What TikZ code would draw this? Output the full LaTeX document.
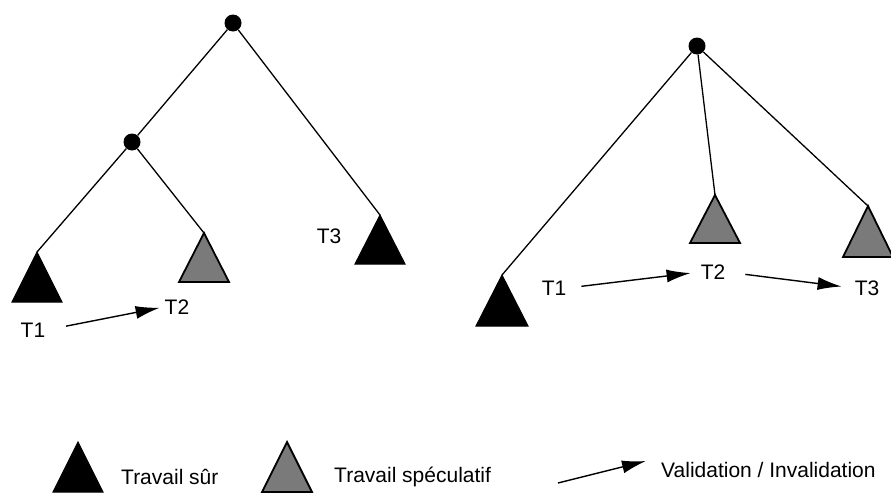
\documentclass[tikz,border=0pt]{standalone}
\usepackage{fontspec}
\setmainfont{Liberation Sans}
\usetikzlibrary{positioning, arrows.meta}

\tikzset{
  dot/.style={circle,fill=black,inner sep=0pt,minimum size=17pt},
  branch/.style={line width=1.3pt},
  sure/.style={fill=black,draw=black,line width=1pt,line join=miter},
  spec/.style={fill=black!52,draw=black,line width=1.8pt,line join=miter},
  lbl/.style={inner sep=1pt,font=\fontsize{21}{24}\selectfont},
  valid/.style={line width=1.4pt,->},
}

\begin{document}
\begin{tikzpicture}[x=1pt,y=-1pt]

\useasboundingbox (0,0) rectangle (891,493);

% left tree
\node[dot] (lroot) at (233,23) {};
\node[dot] (lmid) at (132,142) {};
\draw[sure] (37,252) coordinate (lt1) -- ++(25,50) -- ++(-50,0) -- cycle;
\draw[spec] (204,233) coordinate (lt2) -- ++(25,49) -- ++(-50,0) -- cycle;
\draw[sure] (380,215) coordinate (lt3) -- ++(25,49) -- ++(-50,0) -- cycle;
\draw[branch] (lroot) -- (lmid);
\draw[branch] (lroot) -- (lt3);
\draw[branch] (lmid) -- (lt1);
\draw[branch] (lmid) -- (lt2);
\node[lbl] (la) at (33,330) {T1};
\node[lbl] (lb) at (177,307) {T2};
\node[lbl] (lc) at (329,236) {T3};

% right tree
\node[dot] (rroot) at (697,46) {};
\draw[sure] (502,275) coordinate (rt1) -- ++(26,51) -- ++(-52,0) -- cycle;
\draw[spec] (715,195) coordinate (rt2) -- ++(25,48) -- ++(-50,0) -- cycle;
\draw[spec] (868,206) coordinate (rt3) -- ++(25,51) -- ++(-50,0) -- cycle;
\draw[branch] (rroot) -- (rt1);
\draw[branch] (rroot) -- (rt2);
\draw[branch] (rroot) -- (rt3);
\node[lbl] (ra) at (554,288) {T1};
\node[lbl] (rb) at (713,272) {T2};
\node[lbl] (rc) at (867,288) {T3};

\begin{scope}[>={Latex[length=24pt,width=13pt]}]
\draw[valid,shorten <=20pt,shorten >=4pt] (la.east) -- (lb.west);
\draw[valid,shorten <=14pt,shorten >=9pt] (ra.east) -- (rb.west);
\draw[valid,shorten <=19pt,shorten >=12pt] (rb.east) -- (rc.west);

% legend
\draw[sure] (78,442) -- ++(25,50) -- ++(-50,0) -- cycle;
\node[lbl,anchor=west] (ksure) at (120,477) {Travail sûr};
\draw[spec] (287,442) -- ++(25,50) -- ++(-50,0) -- cycle;
\node[lbl,anchor=west] (kspec) at (333,477) {Travail spéculatif};
\coordinate (ka) at (558,483);
\coordinate (kb) at (646,461);
\draw[valid] (ka) -- (kb);
\node[lbl,anchor=west] (kvalid) at (660,470) {Validation / Invalidation};
\end{scope}

\end{tikzpicture}
\end{document}
